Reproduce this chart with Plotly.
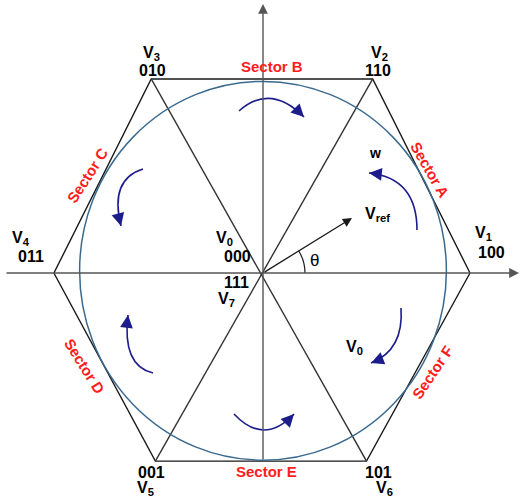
import plotly.graph_objects as go

# ---- data (diagram units: hexagon centre = origin) ----
vertex_names = ["V1", "V2", "V3", "V4", "V5", "V6"]
vertex_x = [1.00, 0.53, -0.54, -1.01, -0.52, 0.50]
vertex_y = [0.00, 0.882, 0.882, 0.00, -0.855, -0.855]
vertex_states = ["100", "110", "010", "011", "001", "101"]
sectors = ["Sector A", "Sector B", "Sector C", "Sector D", "Sector E", "Sector F"]
circle_rx, circle_ry, circle_cy = 0.886, 0.861, 0.01
vref_x, vref_y = 0.43, 0.25

# pixel -> diagram units helper (reference scale: 207 px/unit horizontally, 220 px/unit vertically)
CX, CY, SX, SY = 263, 273, 207, 220
def U(px, py):
    return (px - CX) / SX, (CY - py) / SY

W, H = 520, 497
xr = [-CX / SX, (W - CX) / SX]
yr = [(CY - H) / SY, CY / SY]

BLACK = "#1a1a1a"
AXIS = "#555555"
NAVY = "#1c1c8c"
CIRC = "#3b6a8f"
RED = "#ff1c1c"
FONT = "Liberation Sans, Arial, sans-serif"

fig = go.Figure()

# hexagon
fig.add_trace(go.Scatter(x=vertex_x + [vertex_x[0]], y=vertex_y + [vertex_y[0]],
                         mode="lines", line=dict(color=BLACK, width=1.4),
                         hoverinfo="skip", showlegend=False))
# diagonals V2-V5, V3-V6
for a, b in [(1, 4), (2, 5)]:
    fig.add_trace(go.Scatter(x=[vertex_x[a], vertex_x[b]], y=[vertex_y[a], vertex_y[b]],
                             mode="lines", line=dict(color="#333333", width=1.4),
                             hoverinfo="skip", showlegend=False))

shapes = []
# inscribed circle
shapes.append(dict(type="circle", xref="x", yref="y",
                   x0=-circle_rx, x1=circle_rx, y0=circle_cy - circle_ry, y1=circle_cy + circle_ry,
                   line=dict(color=CIRC, width=1.5)))

# curved rotation arrows (start, control, tip) in px of the reference
curves = [
    [(239, 111), (270.5, 83), (304, 117)],
    [(234, 414), (264, 446), (294, 414)],
    [(417, 230), (417, 178), (369, 173)],
    [(401, 308), (404, 350), (371, 363)],
    [(143, 169), (109.3, 179.4), (121, 226)],
    [(153, 373), (121.9, 365.8), (128, 315)],
]
annotations = []
for c in curves:
    p0, pc, p2 = [U(*p) for p in c]
    shapes.append(dict(type="path", xref="x", yref="y",
                       path=f"M {p0[0]},{p0[1]} Q {pc[0]},{pc[1]} {p2[0]},{p2[1]}",
                       line=dict(color=NAVY, width=1.6)))
    # arrowhead along tangent at tip
    dx, dy = (c[2][0] - c[1][0]), (c[2][1] - c[1][1])
    n = (dx * dx + dy * dy) ** 0.5
    tail = U(c[2][0] - 6 * dx / n, c[2][1] - 6 * dy / n)
    annotations.append(dict(x=p2[0], y=p2[1], ax=tail[0], ay=tail[1], xref="x", yref="y",
                            axref="x", ayref="y", text="", showarrow=True, arrowhead=2,
                            arrowsize=1.6, arrowwidth=1.6, arrowcolor=NAVY))

# theta arc
a0, ac, a2 = U(305, 273), U(305, 261), U(298.6, 250.7)
shapes.append(dict(type="path", xref="x", yref="y",
                   path=f"M {a0[0]},{a0[1]} Q {ac[0]},{ac[1]} {a2[0]},{a2[1]}",
                   line=dict(color=BLACK, width=1.2)))

# axes with arrows
l, r = U(5, 273), U(519, 273)
annotations.append(dict(x=r[0], y=0, ax=l[0], ay=0, xref="x", yref="y", axref="x", ayref="y",
                        text="", showarrow=True, arrowhead=2, arrowsize=1.4, arrowwidth=1.4,
                        arrowcolor=AXIS))
t = U(263, 4)
annotations.append(dict(x=0, y=t[1], ax=0, ay=vertex_y[4], xref="x", yref="y", axref="x", ayref="y",
                        text="", showarrow=True, arrowhead=2, arrowsize=1.4, arrowwidth=1.4,
                        arrowcolor=AXIS))
# Vref
annotations.append(dict(x=vref_x, y=vref_y, ax=0, ay=0, xref="x", yref="y", axref="x", ayref="y",
                        text="", showarrow=True, arrowhead=2, arrowsize=1.4, arrowwidth=1.3,
                        arrowcolor=BLACK))

def label(txt, px, py, color="black", bold=True, size=15, angle=0):
    x, y = U(px, py)
    annotations.append(dict(x=x, y=y, xref="x", yref="y", showarrow=False,
                            text=f"<b>{txt}</b>" if bold else txt, textangle=angle,
                            font=dict(family=FONT, size=size, color=color)))

# vertex labels
vlabel_pos = {  # (name px, py), (state px, py)
    "V1": ((483, 233), (491, 252)),
    "V2": ((379, 53), (378, 70)),
    "V3": ((151, 53), (152, 70)),
    "V4": ((21, 238), (31, 256)),
    "V5": ((145, 488), (151, 472)),
    "V6": ((384, 488), (378, 472)),
}
for name, state in zip(vertex_names, vertex_states):
    (nx, ny), (sx, sy) = vlabel_pos[name]
    label(f"V<sub>{name[1]}</sub>", nx, ny, size=16)
    label(state, sx, sy, size=16)

label("V<sub>0</sub>", 224, 238, size=16)
label("000", 237, 256, size=16)
label("111", 236, 282, size=16)
label("V<sub>7</sub>", 226, 299, size=16)
label("V<sub>0</sub>", 354, 347, size=16)
label("V<sub>ref</sub>", 377, 214, size=16)
label("w", 375, 153, size=14)
label("θ", 314, 260, bold=False, size=17)

sector_pos = {
    "Sector A": (430, 169, 60),
    "Sector B": (272, 66, 0),
    "Sector C": (87, 175, -57),
    "Sector D": (85, 366, 58),
    "Sector E": (266, 471, 0),
    "Sector F": (432, 372, -56),
}
for s in sectors:
    px, py, ang = sector_pos[s]
    label(s, px, py, color=RED, size=15, angle=ang)

fig.update_layout(
    width=W, height=H, margin=dict(l=0, r=0, t=0, b=0),
    paper_bgcolor="white", plot_bgcolor="white", showlegend=False,
    xaxis=dict(range=xr, visible=False, fixedrange=True),
    yaxis=dict(range=yr, visible=False, fixedrange=True),
    shapes=shapes, annotations=annotations,
)
fig.write_html("out.html", config={"displayModeBar": False},
               post_script="document.body.style.margin='0';document.body.style.overflow='hidden';")
